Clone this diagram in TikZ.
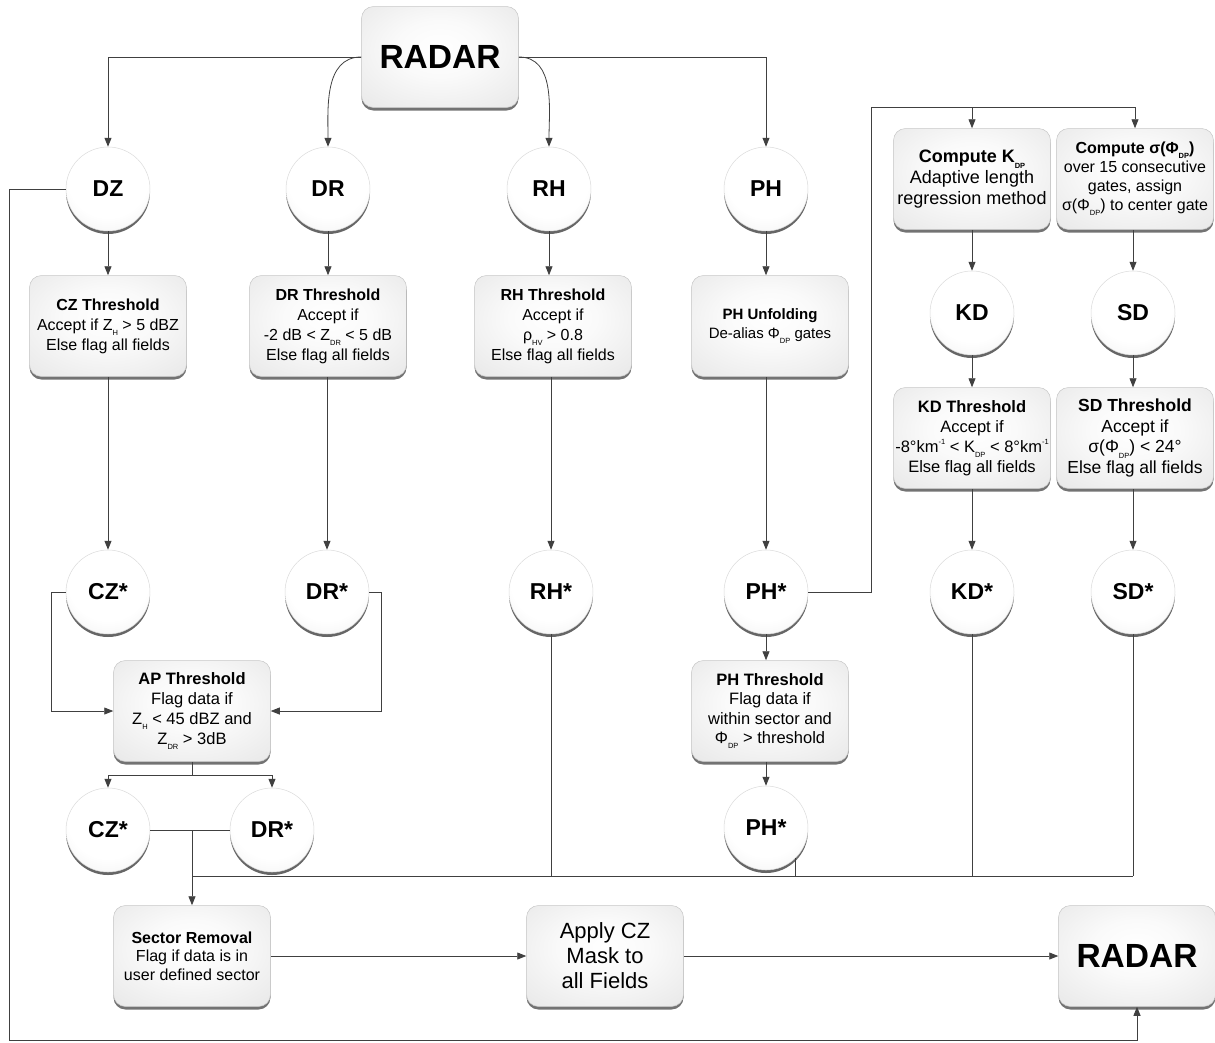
\documentclass[tikz,border=0pt]{standalone}
\usepackage{fontspec}
\setmainfont{Liberation Sans}
\usetikzlibrary{arrows.meta,positioning,shadows}

\newcommand{\lowsub}[1]{\raisebox{-0.6ex}{\fontsize{7.5}{7.5}\selectfont #1}}
\newcommand{\highsup}[1]{\raisebox{0.9ex}{\fontsize{7.5}{7.5}\selectfont #1}}

\pgfdeclareradialshading{boxglow}{\pgfpoint{0bp}{5bp}}{color(0bp)=(white); color(14bp)=(gray!4); color(34bp)=(gray!16); color(50bp)=(gray!30); color(72bp)=(gray!42)}
\pgfdeclareradialshading{fieldball}{\pgfpoint{0bp}{10bp}}{color(0bp)=(white); color(24bp)=(white); color(40bp)=(gray!12); color(51bp)=(gray!30); color(60bp)=(gray!48); color(80bp)=(gray!48)}

\tikzset{
  stepbox/.style={rectangle, rounded corners=12pt, draw=gray!45, line width=0.5pt,
    shade, shading=boxglow, minimum width=157pt, minimum height=101pt,
    align=center, inner sep=1pt, font=\fontsize{16}{20}\selectfont,
    drop shadow={shadow xshift=0pt, shadow yshift=-3pt, opacity=0.55, fill=black}},
  field/.style={circle, minimum size=84pt, inner sep=0pt, draw=gray!28, line width=0.5pt,
    shade, shading=fieldball, font=\bfseries\fontsize{23}{23}\selectfont,
    drop shadow={shadow xshift=0pt, shadow yshift=-3pt, opacity=0.6, fill=black}},
  link/.style={draw=black!75, line width=0.8pt},
  >={Triangle[length=9pt,width=7pt]}
}

\begin{document}
\begin{tikzpicture}[x=1pt, y=-1pt, node distance=137pt, on grid]
\useasboundingbox (0,0) rectangle (1215,1042);

% source
\node[stepbox, font=\bfseries\fontsize{33.5}{34}\selectfont] (radar) at (440,57) {RADAR};

% raw fields
\node[field] (dz) at (108,189) {DZ};
\node[field] (dr) at (328,189) {DR};
\node[field] (rh) at (549,189) {RH};
\node[field] (ph) at (766,189) {PH};

% first tests
\node[stepbox, below=137pt of dz] (czthr) {\textbf{CZ Threshold}\\Accept if Z\lowsub{H} > 5 dBZ\\Else flag all fields};
\node[stepbox, below=137pt of dr] (drthr) {\textbf{DR Threshold}\\Accept if\\-2 dB < Z\lowsub{DR} < 5 dB\\Else flag all fields};
\node[stepbox] (rhthr) at (553,326) {\textbf{RH Threshold}\\Accept if\\ρ\lowsub{HV} > 0.8\\Else flag all fields};
\node[stepbox, font=\fontsize{15}{19}\selectfont] (phunf) at (770,326) {\textbf{PH Unfolding}\\De-alias Φ\lowsub{DP} gates};

% corrected fields
\node[field] (czs) at (108,592) {CZ*};
\node[field] (drs) at (327,592) {DR*};
\node[field] (rhs) at (551,592) {RH*};
\node[field] (phs) at (766,592) {PH*};

% derived fields
\node[stepbox, font=\fontsize{18}{21}\selectfont] (kdc) at (972,179) {\textbf{Compute K\lowsub{DP}}\\Adaptive length\\regression method};
\node[stepbox, font=\fontsize{16}{19}\selectfont] (sdc) at (1135,179) {\textbf{Compute σ(Φ\lowsub{DP})}\\over 15 consecutive\\gates, assign\\σ(Φ\lowsub{DP}) to center gate};
\node[field] (kd) at (972,313) {KD};
\node[field] (sd) at (1133,313) {SD};
\node[stepbox, font=\fontsize{16.5}{20}\selectfont] (kdthr) at (972,438) {\textbf{KD Threshold}\\Accept if\\-8°km\highsup{-1} < K\lowsub{DP} < 8°km\highsup{-1}\\Else flag all fields};
\node[stepbox, font=\fontsize{17.5}{20.5}\selectfont] (sdthr) at (1135,438) {\textbf{SD Threshold}\\Accept if\\σ(Φ\lowsub{DP}) < 24°\\Else flag all fields};
\node[field] (kds) at (972,592) {KD*};
\node[field] (sds) at (1133,592) {SD*};

% second tests
\node[stepbox, font=\fontsize{16.5}{20}\selectfont] (ap) at (192,711) {\textbf{AP Threshold}\\Flag data if\\Z\lowsub{H} < 45 dBZ and\\Z\lowsub{DR} > 3dB};
\node[stepbox, font=\fontsize{16.5}{19.5}\selectfont] (phthr) at (770,711) {\textbf{PH Threshold}\\Flag data if\\within sector and\\Φ\lowsub{DP} > threshold};
\node[field] (cz2) at (108,830) {CZ*};
\node[field] (dr2) at (272,830) {DR*};
\node[field] (ph2) at (766,828) {PH*};

% output
\node[stepbox, font=\fontsize{16}{18.5}\selectfont] (sector) at (192,956) {\textbf{Sector Removal}\\Flag if data is in\\user defined sector};
\node[stepbox, font=\fontsize{22}{25}\selectfont] (apply) at (605,956) {Apply CZ\\Mask to\\all Fields};
\node[stepbox, font=\bfseries\fontsize{33.5}{34}\selectfont] (radar2) at (1137,956) {RADAR};

\coordinate (top) at (871,107);
\coordinate (apfork) at (192,775);
\coordinate (bus) at (192,876);
\coordinate (loop) at (9,1040);

% connectors
\draw[link,->] (radar.west) -| (dz.north);
\draw[link,->] (radar.west) to[out=180,in=90] (dr.north);
\draw[link,->] (radar.east) to[out=0,in=90] (rh.north);
\draw[link,->] (radar.east) -| (ph.north);

\draw[link,->] (dz.south) -- (czthr.north);
\draw[link,->] (dr.south) -- (drthr.north);
\draw[link,->] (rh.south) -- (rhthr.north -| rh.south);
\draw[link,->] (ph.south) -- (phunf.north -| ph.south);
\draw[link,->] (czthr.south) -- (czs.north);
\draw[link,->] (drthr.south -| drs.north) -- (drs.north);
\draw[link,->] (rhthr.south -| rhs.north) -- (rhs.north);
\draw[link,->] (phunf.south -| phs.north) -- (phs.north);

\draw[link] (phs.east) -| (top) -- (sdc.north |- top);
\draw[link,->] (kdc.north |- top) -- (kdc.north);
\draw[link,->] (sdc.north |- top) -- (sdc.north);
\draw[link,->] (kdc.south) -- (kd.north);
\draw[link,->] (sdc.south -| sd.north) -- (sd.north);
\draw[link,->] (kd.south) -- (kdthr.north);
\draw[link,->] (sd.south) -- (sdthr.north -| sd.south);
\draw[link,->] (kdthr.south) -- (kds.north);
\draw[link,->] (sdthr.south -| sds.north) -- (sds.north);

\draw[link,->] (czs.west) -- ++(-14,0) |- (ap.west);
\draw[link,->] (drs.east) -- ++(12,0) |- (ap.east);
\draw[link] (ap.south) -- (apfork);
\draw[link,->] (apfork) -| (cz2.north);
\draw[link,->] (apfork) -| (dr2.north);
\draw[link,->] (phs.south) -- (phthr.north -| phs.south);
\draw[link,->] (phthr.south -| ph2.north) -- (ph2.north);

\draw[link] (cz2.east) -- (dr2.west);
\draw[link,->] (cz2.east -| sector.north) -- (sector.north);
\draw[link] (bus) -- (sds.south |- bus);
\draw[link] (rhs.south) -- (rhs.south |- bus);
\draw[link] (ph2.-45) -- (ph2.-45 |- bus);
\draw[link] (kds.south) -- (kds.south |- bus);
\draw[link] (sds.south) -- (sds.south |- bus);

\draw[link,->] (sector) -- (apply);
\draw[link,->] (apply) -- (radar2);
\draw[link,->] (dz.west) -| (loop) -| (radar2.south);
\end{tikzpicture}
\end{document}
